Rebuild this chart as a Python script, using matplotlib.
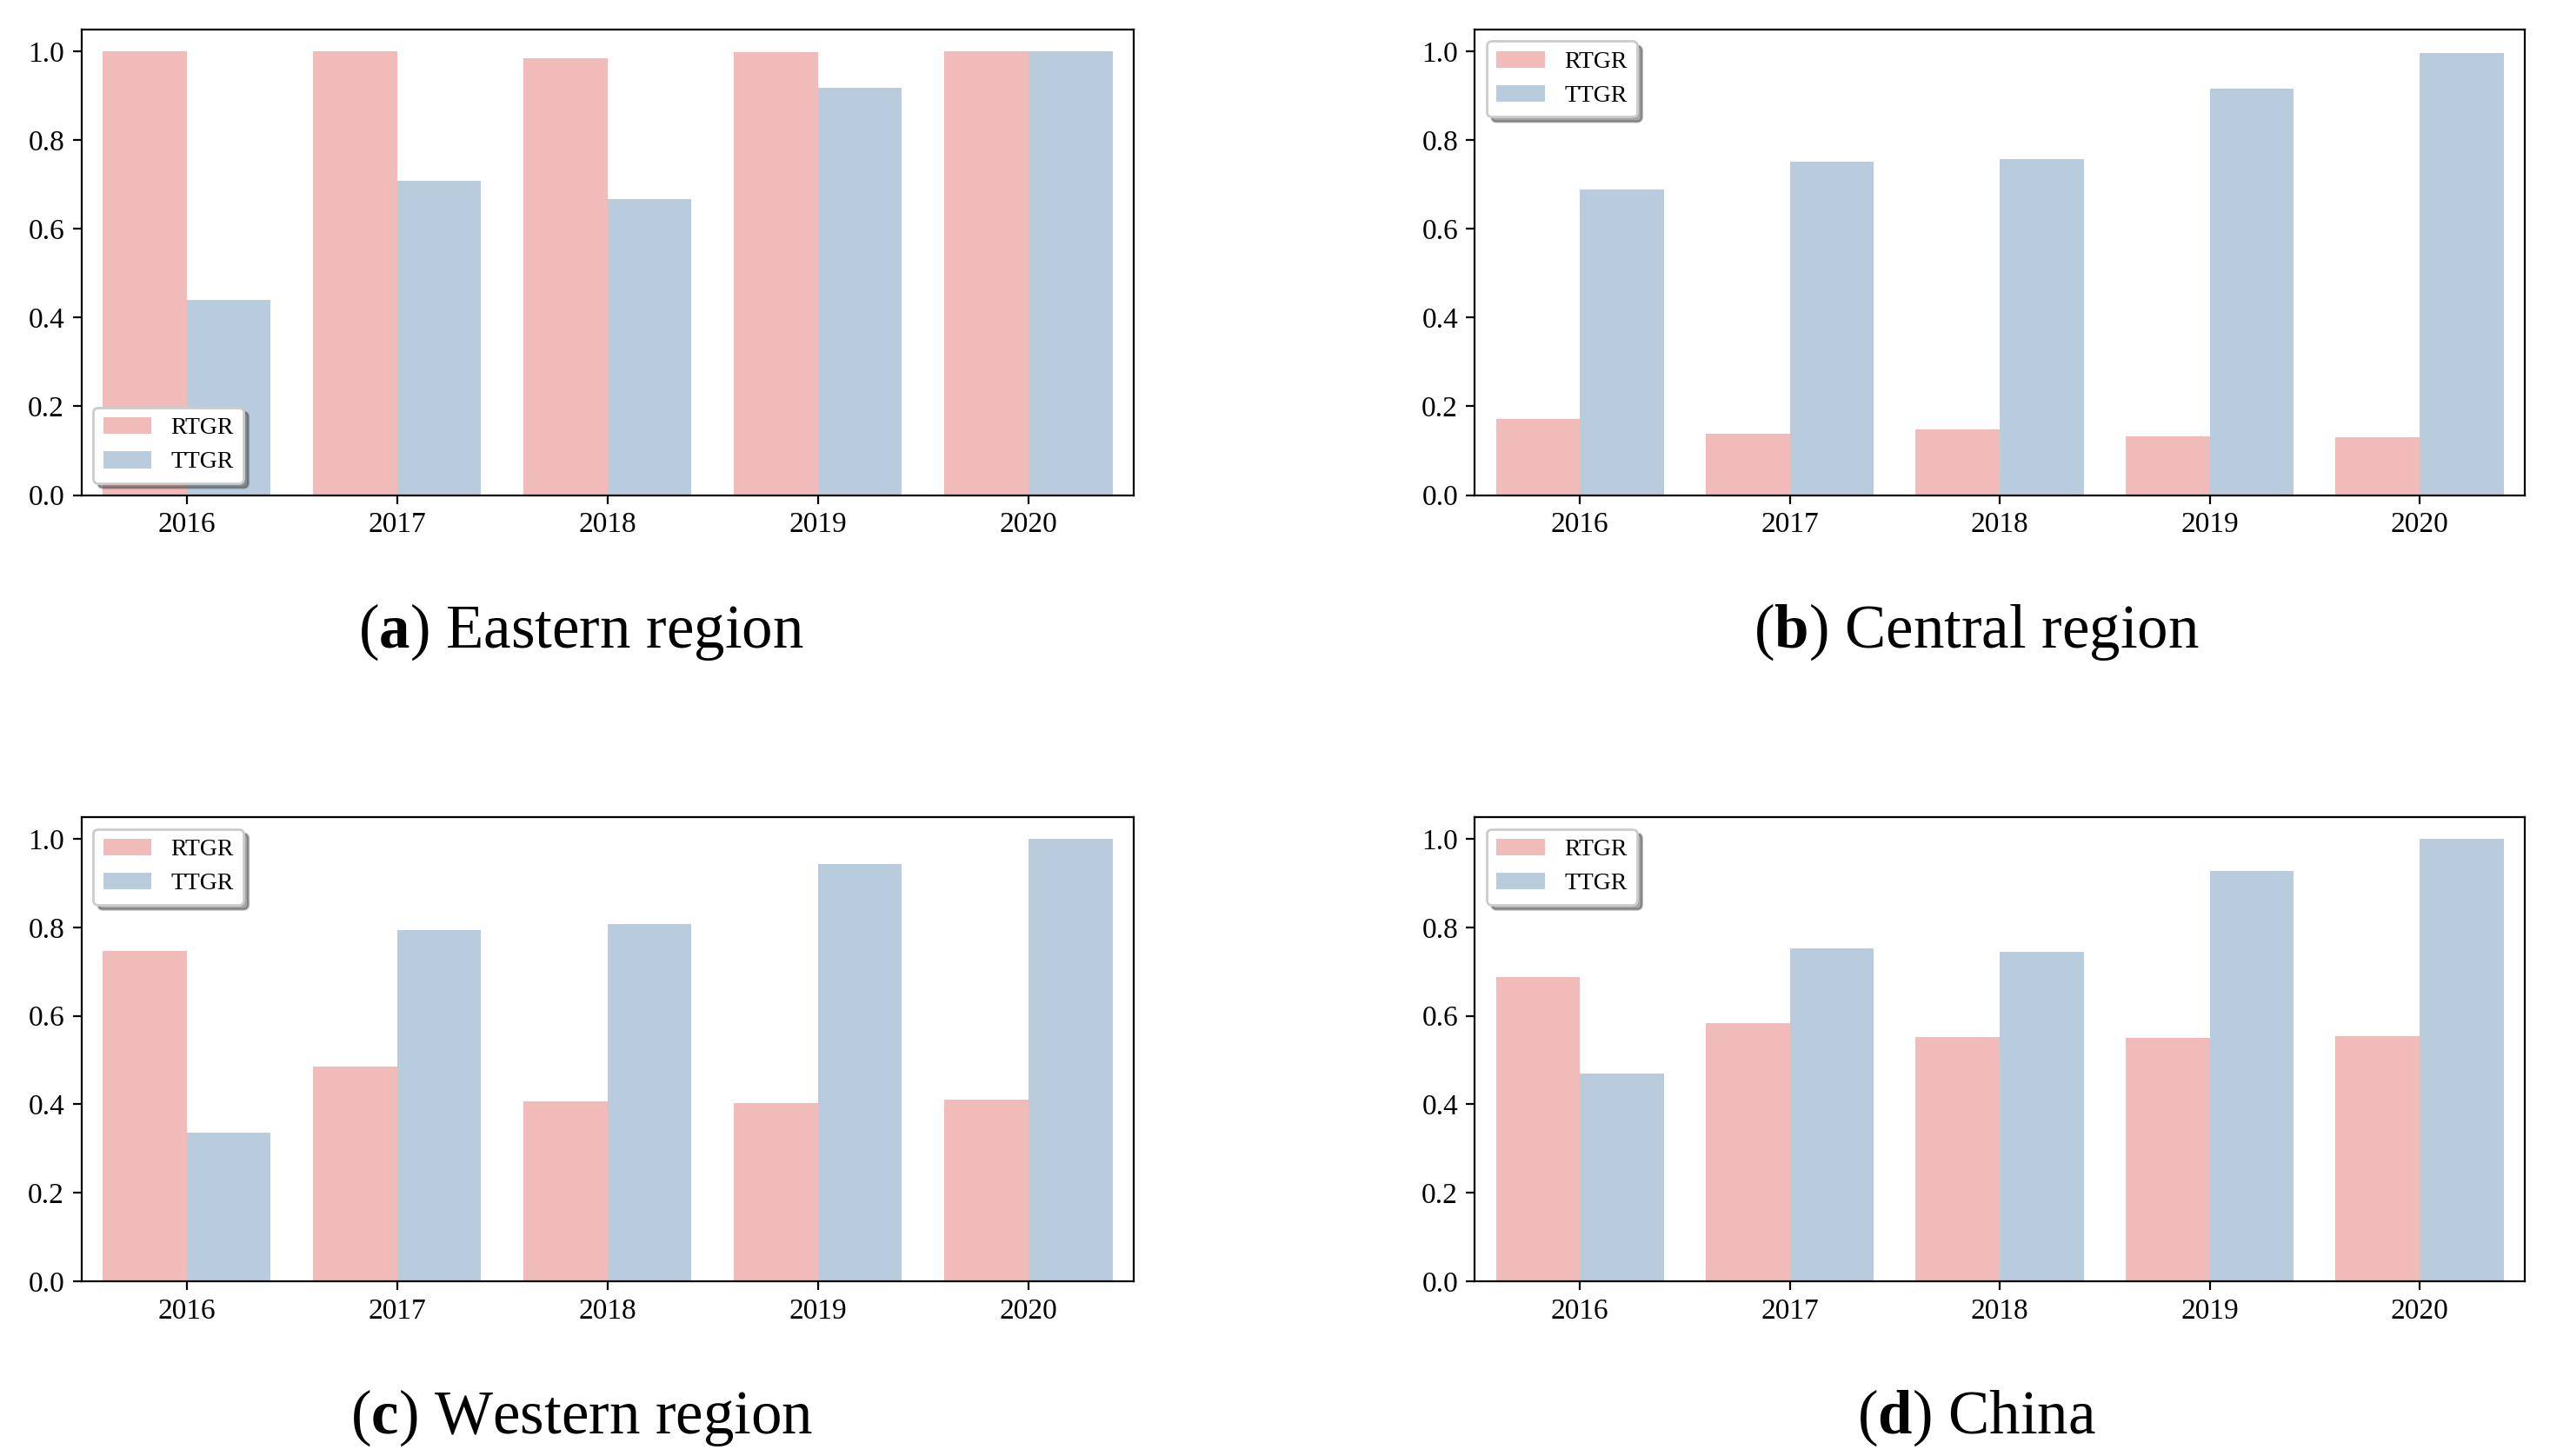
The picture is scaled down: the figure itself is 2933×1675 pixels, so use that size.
import numpy as np
import matplotlib
matplotlib.use('Agg')
import matplotlib.pyplot as plt

plt.rcParams['font.family'] = ['Liberation Serif', 'DejaVu Serif']
plt.rcParams['mathtext.fontset'] = 'custom'
plt.rcParams['mathtext.rm'] = 'Liberation Serif'
plt.rcParams['mathtext.bf'] = 'Liberation Serif:bold'

years = ['2016', '2017', '2018', '2019', '2020']
series_names = ['RTGR', 'TTGR']

# Eastern region
east_rtgr = [1.0, 1.0, 0.985, 0.998, 1.0]
east_ttgr = [0.44, 0.709, 0.668, 0.918, 1.0]
# Central region
central_rtgr = [0.171, 0.138, 0.148, 0.132, 0.130]
central_ttgr = [0.689, 0.751, 0.757, 0.916, 0.996]
# Western region
west_rtgr = [0.746, 0.486, 0.407, 0.402, 0.410]
west_ttgr = [0.337, 0.794, 0.807, 0.943, 1.0]
# China
china_rtgr = [0.687, 0.584, 0.552, 0.550, 0.554]
china_ttgr = [0.469, 0.753, 0.744, 0.928, 1.0]

letters = ['a', 'b', 'c', 'd']
titles = ['Eastern region', 'Central region', 'Western region', 'China']
legend_locs = ['lower left', 'upper left', 'upper left', 'upper left']

pink = '#F0BBB8'
blue = '#B9CCDE'

fig = plt.figure(figsize=(14.665, 8.375), dpi=200)

# axes boxes [left, bottom, width, height] in figure fractions
boxes = [[0.0319, 0.660, 0.4126, 0.320],
         [0.5784, 0.660, 0.4116, 0.320],
         [0.0319, 0.120, 0.4126, 0.319],
         [0.5784, 0.120, 0.4116, 0.319]]
caption_pos = [(0.228, 0.566), (0.775, 0.566), (0.228, 0.026), (0.775, 0.026)]

data = [(east_rtgr, east_ttgr), (central_rtgr, central_ttgr),
        (west_rtgr, west_ttgr), (china_rtgr, china_ttgr)]

x = np.arange(len(years))
w = 0.4
for i in range(4):
    ax = fig.add_axes(boxes[i])
    r, t = data[i]
    ax.bar(x - w / 2, r, width=w, color=pink, label=series_names[0])
    ax.bar(x + w / 2, t, width=w, color=blue, label=series_names[1])
    ax.set_xlim(-0.5, len(years) - 0.5)
    ax.set_ylim(0, 1.05)
    ax.set_xticks(x)
    ax.set_xticklabels(years)
    ax.set_yticks([0.0, 0.2, 0.4, 0.6, 0.8, 1.0])
    ax.tick_params(labelsize=12)
    ax.legend(loc=legend_locs[i], fontsize=10, shadow=True, fancybox=True)
    fig.text(caption_pos[i][0], caption_pos[i][1],
             r'($\mathbf{%s}$) %s' % (letters[i], titles[i]),
             fontsize=25.5, ha='center', va='center')

fig.savefig('out.png', dpi=200)
